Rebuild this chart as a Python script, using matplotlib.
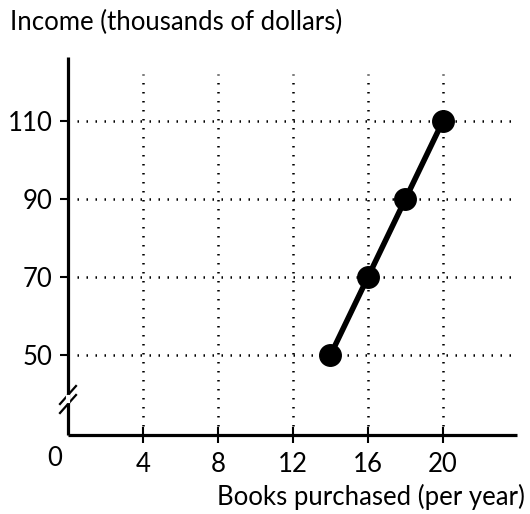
import matplotlib
matplotlib.use("Agg")
import matplotlib.pyplot as plt
from matplotlib.lines import Line2D

books = [14, 16, 18, 20]
income = [50, 70, 90, 110]
xticks = [4, 8, 12, 16, 20]
yticks = [50, 70, 90, 110]

plt.rcParams['font.family'] = ['Lato', 'DejaVu Sans']

W, H = 530, 514
fig = plt.figure(figsize=(W / 100, H / 100), dpi=100)
ax = fig.add_axes([68 / W, 79 / H, (517 - 68) / W, (435 - 57) / H])
ax.set_xlim(0, 23.95)
ax.set_ylim(29.5, 126.4)

for s in ['top', 'right']:
    ax.spines[s].set_visible(False)
for s in ['left', 'bottom']:
    ax.spines[s].set_linewidth(2.3)
    ax.spines[s].set_capstyle('butt')

dot = (0, (0.6, 3.0))
for x in xticks:
    ax.plot([x, x], [29.5, 122], color='black', lw=1.8, linestyle=dot, zorder=1)
for y in yticks:
    ax.plot([0, 23.95], [y, y], color='black', lw=1.8, linestyle=dot, zorder=1)

ax.plot(books, income, color='black', lw=4, marker='o', markersize=15.5, zorder=3)

ax.set_xticks(xticks)
ax.set_yticks(yticks)
ax.set_xticklabels([str(v) for v in xticks], fontsize=18.5)
ax.set_yticklabels([str(v) for v in yticks], fontsize=18.5)
ax.tick_params(axis='x', direction='inout', length=12, width=1.5, pad=6)
ax.tick_params(axis='y', direction='out', length=6, width=1.5, pad=5)

fig.text(55 / W, 1 - 458 / H, '0', fontsize=18.5, ha='center', va='center')
fig.text(10 / W, 1 - 22 / H, 'Income (thousands of dollars)', fontsize=18.5, ha='left', va='center')
fig.text(525 / W, 1 - 497 / H, 'Books purchased (per year)', fontsize=18.5, ha='right', va='center')

# axis break marks
for dy in (0, 9):
    cy = 395 + dy
    fig.add_artist(Line2D([60 / W, 76 / W], [1 - (cy + 9) / H, 1 - (cy - 9) / H],
                          color='black', lw=1.6))
fig.add_artist(Line2D([68 / W, 68 / W], [1 - 401 / H, 1 - 397 / H], color='white', lw=3))

fig.savefig('out.png', dpi=100)
